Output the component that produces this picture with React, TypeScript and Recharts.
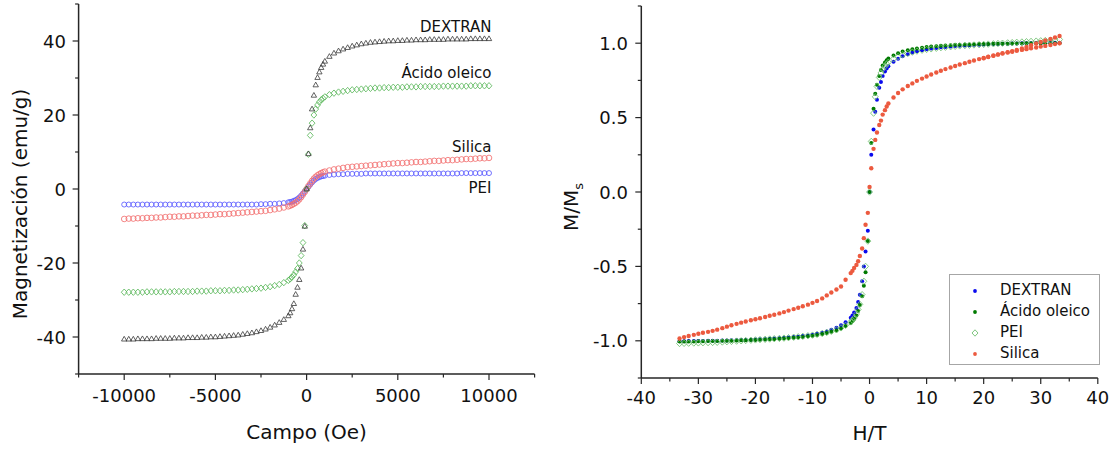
import React from 'react';
import { ScatterChart, Scatter, XAxis, YAxis, Legend } from 'recharts';

const FONT = "'DejaVu Sans', Verdana, sans-serif";

// ---------------- Left chart data (Campo in Oe, Magnetización in emu/g) ----------------
const FIELD_OE = [
  -10000, -9750, -9500, -9250, -9000, -8750, -8500, -8250, -8000, -7750,
  -7500, -7250, -7000, -6750, -6500, -6250, -6000, -5750, -5500, -5250,
  -5000, -4750, -4500, -4250, -4000, -3750, -3500, -3250, -3000, -2750,
  -2500, -2250, -2000, -1750, -1500, -1250, -1000,
  -900, -800, -700, -600, -500, -400, -300, -200, -100, 0, 100, 200, 300, 400, 500, 600, 700, 800, 900,
  1000, 1250, 1500, 1750, 2000, 2250, 2500, 2750, 3000, 3250,
  3500, 3750, 4000, 4250, 4500, 4750, 5000, 5250, 5500, 5750,
  6000, 6250, 6500, 6750, 7000, 7250, 7500, 7750, 8000, 8250,
  8500, 8750, 9000, 9250, 9500, 9750, 10000,
];

const M_DEXTRAN = [
  -40.6, -40.6, -40.6, -40.5, -40.5, -40.5, -40.5, -40.4, -40.4, -40.4,
  -40.4, -40.3, -40.3, -40.3, -40.2, -40.2, -40.2, -40.1, -40.1, -40.0,
  -40.0, -39.9, -39.8, -39.7, -39.6, -39.5, -39.3, -39.1, -38.9, -38.6,
  -38.3, -37.9, -37.4, -36.8, -36.1, -35.3, -34.3,
  -33.5, -32.4, -31.0, -28.5, -26.6, -24.5, -21.4, -16.3, -10.1, 0.0, 9.5, 16.5, 21.6, 25.3, 28.1, 30.1, 31.6, 32.8, 33.7,
  34.5, 35.8, 36.7, 37.3, 37.8, 38.2, 38.6, 38.9, 39.2, 39.4,
  39.6, 39.7, 39.8, 39.9, 40.0, 40.0, 40.1, 40.1, 40.2, 40.2,
  40.3, 40.3, 40.3, 40.4, 40.4, 40.4, 40.4, 40.5, 40.5, 40.5,
  40.5, 40.5, 40.6, 40.6, 40.6, 40.6, 40.6,
];

const M_OLEICO = [
  -27.9, -27.9, -27.9, -27.9, -27.9, -27.8, -27.8, -27.8, -27.8, -27.8,
  -27.8, -27.7, -27.7, -27.7, -27.7, -27.7, -27.6, -27.6, -27.6, -27.5,
  -27.5, -27.5, -27.4, -27.4, -27.3, -27.3, -27.2, -27.1, -27.0, -26.9,
  -26.8, -26.6, -26.4, -26.1, -25.8, -25.3, -24.7,
  -24.3, -23.8, -23.2, -22.4, -21.5, -20.0, -18.0, -14.5, -9.9, 0.0, 9.4, 14.5, 17.8, 20.0, 21.6, 22.7, 23.5, 24.1, 24.5,
  24.9, 25.5, 25.9, 26.2, 26.4, 26.6, 26.8, 26.9, 27.0, 27.1,
  27.2, 27.3, 27.3, 27.4, 27.4, 27.5, 27.5, 27.5, 27.6, 27.6,
  27.6, 27.7, 27.7, 27.7, 27.7, 27.7, 27.8, 27.8, 27.8, 27.8,
  27.8, 27.8, 27.9, 27.9, 27.9, 27.9, 27.9,
];

const M_SILICA = [
  -8.1, -8.0, -8.0, -7.9, -7.9, -7.8, -7.8, -7.7, -7.7, -7.6,
  -7.5, -7.5, -7.4, -7.4, -7.3, -7.2, -7.2, -7.1, -7.0, -7.0,
  -6.9, -6.8, -6.8, -6.7, -6.6, -6.5, -6.4, -6.3, -6.2, -6.1,
  -6.0, -5.9, -5.7, -5.5, -5.3, -5.0, -4.7,
  -4.5, -4.3, -4.0, -3.7, -3.3, -2.8, -2.2, -1.5, -0.8, 0.0, 0.8, 1.5, 2.2, 2.8, 3.3, 3.7, 4.0, 4.3, 4.5,
  4.7, 5.0, 5.3, 5.5, 5.7, 5.9, 6.0, 6.1, 6.2, 6.3,
  6.4, 6.5, 6.6, 6.7, 6.8, 6.9, 7.0, 7.0, 7.1, 7.2,
  7.3, 7.3, 7.4, 7.5, 7.6, 7.6, 7.7, 7.8, 7.8, 7.9,
  8.0, 8.1, 8.1, 8.2, 8.3, 8.3, 8.4,
];

const M_PEI = [
  -4.2, -4.2, -4.2, -4.2, -4.2, -4.2, -4.2, -4.2, -4.2, -4.2,
  -4.2, -4.2, -4.2, -4.2, -4.2, -4.2, -4.2, -4.2, -4.2, -4.2,
  -4.2, -4.2, -4.2, -4.2, -4.2, -4.2, -4.2, -4.2, -4.2, -4.2,
  -4.1, -4.1, -4.0, -4.0, -3.9, -3.8, -3.6,
  -3.5, -3.4, -3.2, -3.0, -2.7, -2.3, -1.8, -1.2, -0.6, 0.0, 0.6, 1.2, 1.8, 2.3, 2.7, 3.0, 3.2, 3.4, 3.5,
  3.6, 3.8, 3.9, 4.0, 4.0, 4.1, 4.1, 4.1, 4.1, 4.2,
  4.2, 4.2, 4.2, 4.2, 4.2, 4.2, 4.2, 4.2, 4.2, 4.2,
  4.2, 4.2, 4.2, 4.2, 4.2, 4.2, 4.2, 4.2, 4.2, 4.2,
  4.3, 4.3, 4.3, 4.3, 4.3, 4.3, 4.3,
];

const LEFT_LABELS = ['DEXTRAN', 'Ácido oleico', 'Silica', 'PEI'];
const LEFT_LABEL_X = [10000, 10000, 10000, 10000];
const LEFT_LABEL_Y = [44.0, 31.4, 11.6, 0.3];

const LEFT_X_TICKS = [-12500, -10000, -7500, -5000, -2500, 0, 2500, 5000, 7500, 10000, 12500];
const LEFT_X_MAJOR = [-10000, -5000, 0, 5000, 10000];
const LEFT_Y_TICKS = [-50, -40, -30, -20, -10, 0, 10, 20, 30, 40, 50];
const LEFT_Y_MAJOR = [-40, -20, 0, 20, 40];

// ---------------- Right chart data (H/T, M/Ms) ----------------
const HT = [
  -33.3, -32.5, -31.7, -30.8, -30.0, -29.2, -28.3, -27.5, -26.7, -25.8,
  -25.0, -24.2, -23.3, -22.5, -21.7, -20.8, -20.0, -19.2, -18.3, -17.5,
  -16.7, -15.8, -15.0, -14.2, -13.3, -12.5, -11.7, -10.8, -10.0, -9.2,
  -8.3, -7.5, -6.7, -5.8, -5.0, -4.2, -3.3,
  -3.0, -2.7, -2.3, -2.0, -1.7, -1.3, -1.0, -0.7, -0.3, 0.0, 0.3, 0.7, 1.0, 1.3, 1.7, 2.0, 2.3, 2.7, 3.0,
  3.3, 4.2, 5.0, 5.8, 6.7, 7.5, 8.3, 9.2, 10.0, 10.8,
  11.7, 12.5, 13.3, 14.2, 15.0, 15.8, 16.7, 17.5, 18.3, 19.2,
  20.0, 20.8, 21.7, 22.5, 23.3, 24.2, 25.0, 25.8, 26.7, 27.5,
  28.3, 29.2, 30.0, 30.8, 31.7, 32.5, 33.3,
];

const MR_DEXTRAN = [
  -1.003, -1.003, -1.002, -1.002, -1.001, -1.001, -1.0, -1.0, -0.999, -0.998,
  -0.998, -0.997, -0.996, -0.995, -0.994, -0.993, -0.992, -0.99, -0.989, -0.987,
  -0.985, -0.983, -0.981, -0.978, -0.975, -0.972, -0.968, -0.964, -0.959, -0.953,
  -0.946, -0.937, -0.926, -0.912, -0.895, -0.875, -0.845,
  -0.83, -0.81, -0.78, -0.74, -0.69, -0.6, -0.5, -0.4, -0.26, 0.0, 0.25, 0.42, 0.54, 0.62, 0.7, 0.74, 0.78, 0.81, 0.83,
  0.845, 0.875, 0.895, 0.912, 0.926, 0.937, 0.946, 0.953, 0.959, 0.964,
  0.968, 0.972, 0.975, 0.978, 0.981, 0.983, 0.985, 0.987, 0.989, 0.99,
  0.992, 0.993, 0.994, 0.995, 0.996, 0.997, 0.998, 0.998, 0.999, 1.0,
  1.0, 1.001, 1.001, 1.002, 1.002, 1.003, 1.003,
];

const MR_OLEICO = [
  -1.005, -1.005, -1.004, -1.004, -1.003, -1.003, -1.002, -1.002, -1.001, -1.0,
  -1.0, -0.999, -0.998, -0.997, -0.996, -0.995, -0.994, -0.993, -0.992, -0.99,
  -0.989, -0.987, -0.985, -0.983, -0.98, -0.977, -0.974, -0.97, -0.966, -0.961,
  -0.955, -0.948, -0.94, -0.93, -0.917, -0.9, -0.88,
  -0.868, -0.852, -0.83, -0.8, -0.76, -0.7, -0.63, -0.54, -0.33, 0.0, 0.33, 0.56, 0.66, 0.72, 0.78, 0.82, 0.85, 0.87, 0.885,
  0.897, 0.918, 0.933, 0.944, 0.953, 0.96, 0.965, 0.97, 0.974, 0.977,
  0.98, 0.983, 0.985, 0.987, 0.989, 0.99, 0.991, 0.992, 0.993, 0.994,
  0.995, 0.995, 0.996, 0.996, 0.997, 0.997, 0.998, 0.998, 0.998, 0.999,
  0.999, 0.999, 1.0, 1.0, 1.0, 1.0, 1.0,
];

const MR_PEI = [
  -1.018, -1.017, -1.016, -1.015, -1.014, -1.013, -1.012, -1.011, -1.01, -1.008,
  -1.006, -1.004, -1.002, -1.0, -0.998, -0.996, -0.994, -0.992, -0.99, -0.988,
  -0.986, -0.984, -0.982, -0.979, -0.976, -0.973, -0.97, -0.966, -0.962, -0.957,
  -0.951, -0.944, -0.936, -0.926, -0.913, -0.896, -0.873,
  -0.862, -0.847, -0.82, -0.79, -0.755, -0.69, -0.6, -0.5, -0.33, 0.0, 0.34, 0.53, 0.64, 0.71, 0.77, 0.8, 0.825, 0.845, 0.86,
  0.872, 0.895, 0.91, 0.922, 0.932, 0.94, 0.947, 0.953, 0.958, 0.962,
  0.966, 0.97, 0.973, 0.976, 0.979, 0.982, 0.984, 0.986, 0.988, 0.99,
  0.992, 0.994, 0.996, 0.998, 1.0, 1.002, 1.004, 1.006, 1.008, 1.01,
  1.012, 1.014, 1.016, 1.018, 1.02, 1.022, 1.025,
];

const MR_SILICA = [
  -0.985, -0.975, -0.968, -0.96, -0.953, -0.946, -0.94, -0.933, -0.925, -0.915,
  -0.905, -0.896, -0.886, -0.878, -0.87, -0.862, -0.855, -0.848, -0.84, -0.832,
  -0.825, -0.816, -0.807, -0.797, -0.787, -0.778, -0.768, -0.757, -0.745, -0.733,
  -0.715, -0.695, -0.675, -0.655, -0.635, -0.59, -0.545,
  -0.53, -0.51, -0.49, -0.465, -0.43, -0.38, -0.31, -0.22, -0.14, 0.034, 0.16, 0.29, 0.35, 0.4, 0.45, 0.48, 0.52, 0.55, 0.575,
  0.595, 0.635, 0.665, 0.69, 0.712, 0.73, 0.747, 0.762, 0.776, 0.79,
  0.803, 0.815, 0.826, 0.837, 0.847, 0.857, 0.866, 0.875, 0.884, 0.893,
  0.901, 0.909, 0.917, 0.925, 0.933, 0.94, 0.947, 0.955, 0.965, 0.975,
  0.986, 0.998, 1.008, 1.018, 1.028, 1.038, 1.048,
];

// second (lower) branch of the Silica loop at high field
const HT_SILICA_LOW = [20.0, 20.8, 21.7, 22.5, 23.3, 24.2, 25.0, 25.8, 26.7, 27.5, 28.3, 29.2, 30.0, 30.8, 31.7, 32.5, 33.3];
const MR_SILICA_LOW = [0.899, 0.907, 0.915, 0.923, 0.93, 0.937, 0.943, 0.949, 0.955, 0.96, 0.966, 0.971, 0.977, 0.982, 0.988, 0.994, 1.0];

const RIGHT_X_TICKS = [-40, -35, -30, -25, -20, -15, -10, -5, 0, 5, 10, 15, 20, 25, 30, 35, 40];
const RIGHT_X_MAJOR = [-40, -30, -20, -10, 0, 10, 20, 30, 40];
const RIGHT_Y_TICKS = [-1.25, -1, -0.75, -0.5, -0.25, 0, 0.25, 0.5, 0.75, 1, 1.25];
const RIGHT_Y_MAJOR = [-1, -0.5, 0, 0.5, 1];

const LEGEND_NAMES = ['DEXTRAN', 'Ácido oleico', 'PEI', 'Silica'];

// ---------------- helpers ----------------
const toPoints = (xs: number[], ys: number[]) => xs.map((x, i) => ({ x, y: ys[i] }));

const leftDextran = toPoints(FIELD_OE, M_DEXTRAN);
const leftOleico = toPoints(FIELD_OE, M_OLEICO);
const leftSilica = toPoints(FIELD_OE, M_SILICA);
const leftPei = toPoints(FIELD_OE, M_PEI);
const leftLabels = LEFT_LABELS.map((t, i) => ({ x: LEFT_LABEL_X[i], y: LEFT_LABEL_Y[i], text: t }));

const rightDextran = toPoints(HT, MR_DEXTRAN);
const rightOleico = toPoints(HT, MR_OLEICO);
const rightPei = toPoints(HT, MR_PEI);
const rightSilica = toPoints(HT, MR_SILICA).concat(toPoints(HT_SILICA_LOW, MR_SILICA_LOW));

const AXIS_COLOR = '#262626';
const isIn = (arr: number[], v: number) => arr.some((a) => Math.abs(a - v) < 1e-9);

const makeXTick = (major: number[], fmt: (v: number) => string, labelDy: number) => (props: any) => {
  const { x, y, payload } = props;
  const m = isIn(major, payload.value);
  return (
    <g>
      <line x1={x} x2={x} y1={y} y2={y + (m ? 6 : 3.5)} stroke={AXIS_COLOR} strokeWidth={1.2} />
      {m && (
        <text x={x} y={y + labelDy} textAnchor="middle" fontSize={18} fontFamily={FONT} fill="#111">
          {fmt(payload.value)}
        </text>
      )}
    </g>
  );
};

const makeYTick = (major: number[], fmt: (v: number) => string, gap: number) => (props: any) => {
  const { x, y, payload } = props;
  const m = isIn(major, payload.value);
  return (
    <g>
      <line x1={x} x2={x - (m ? 6 : 3.5)} y1={y} y2={y} stroke={AXIS_COLOR} strokeWidth={1.2} />
      {m && (
        <text x={x - gap} y={y + 6.5} textAnchor="end" fontSize={18} fontFamily={FONT} fill="#111">
          {fmt(payload.value)}
        </text>
      )}
    </g>
  );
};

// marker shapes
const triShape = (p: any) => (
  <polygon
    points={`${p.cx},${p.cy - 2.9} ${p.cx - 2.7},${p.cy + 1.8} ${p.cx + 2.7},${p.cy + 1.8}`}
    fill="none" stroke="#3a3a3a" strokeWidth={0.8}
  />
);
const diamondShape = (color: string, w: number, h: number) => (p: any) => (
  <polygon
    points={`${p.cx},${p.cy - h} ${p.cx + w},${p.cy} ${p.cx},${p.cy + h} ${p.cx - w},${p.cy}`}
    fill="none" stroke={color} strokeWidth={0.85}
  />
);
const ringShape = (color: string, r: number) => (p: any) => (
  <circle cx={p.cx} cy={p.cy} r={r} fill="none" stroke={color} strokeWidth={0.85} />
);
const dotShape = (color: string, r: number) => (p: any) => (
  <circle cx={p.cx} cy={p.cy} r={r} fill={color} stroke="none" />
);
const textShape = (p: any) => (
  <text x={p.cx + 2.5} y={p.cy + 5.5} textAnchor="end" fontSize={15} fontFamily={FONT} fill="#111">
    {p.payload.text}
  </text>
);

const LeftXTitle = (props: any) => {
  const vb = props.viewBox || { x: 78.6, y: 374, width: 456, height: 75 };
  return (
    <text x={vb.x + vb.width / 2} y={vb.y + 65} textAnchor="middle" fontSize={20} fontFamily={FONT} fill="#111">
      Campo (Oe)
    </text>
  );
};
const LeftYTitle = () => (
  <text x={27} y={204} transform="rotate(-90 27 204)" textAnchor="middle" fontSize={20} fontFamily={FONT} fill="#111">
    Magnetización (emu/g)
  </text>
);
const RightXTitle = (props: any) => {
  const vb = props.viewBox || { x: 81.3, y: 378, width: 456.5, height: 71 };
  return (
    <text x={vb.x + vb.width / 2} y={vb.y + 62} textAnchor="middle" fontSize={20} fontFamily={FONT} fill="#111">
      H/T
    </text>
  );
};
const RightYTitle = () => (
  <text x={18} y={207} transform="rotate(-90 18 207)" textAnchor="middle" fontSize={20} fontFamily={FONT} fill="#111">
    M/M<tspan fontSize={13} dy={5}>s</tspan>
  </text>
);

const legendMarkers = [
  <circle cx={5} cy={5} r={1.9} fill="#0a0aee" />,
  <circle cx={5} cy={5} r={1.9} fill="#007a00" />,
  <polygon points="5,1.8 8,5 5,8.2 2,5" fill="none" stroke="#66bb66" strokeWidth={0.85} />,
  <circle cx={5} cy={5} r={1.9} fill="#ec5a3f" />,
];

const RightLegend = () => (
  <div
    style={{
      position: 'relative', width: 151, height: 91, border: '1px solid #a6a6a6', boxSizing: 'border-box',
      background: '#fff', fontFamily: FONT, fontSize: 15, color: '#111',
    }}
  >
    {LEGEND_NAMES.map((name, i) => (
      <div key={name} style={{ position: 'absolute', left: 0, top: 5 + i * 21, height: 21, width: 149 }}>
        <svg width={10} height={10} style={{ position: 'absolute', left: 20, top: 5.5 }}>
          {legendMarkers[i]}
        </svg>
        <span style={{ position: 'absolute', left: 50, top: 0, lineHeight: '21px', whiteSpace: 'nowrap' }}>{name}</span>
      </div>
    ))}
  </div>
);

export default function App() {
  const axisLine = { stroke: AXIS_COLOR, strokeWidth: 1.5 };
  return (
    <div style={{ position: 'absolute', left: 0, top: 0, width: 1114, height: 449, background: '#fff', fontFamily: FONT }}>
      <div style={{ position: 'absolute', left: 0, top: 0 }}>
        <ScatterChart width={560} height={449} margin={{ top: 4, right: 25.4, bottom: 0, left: 0 }}>
          <XAxis
            type="number" dataKey="x" domain={[-12500, 12500]} ticks={LEFT_X_TICKS} interval={0}
            allowDataOverflow height={75} tickSize={0} tickMargin={0} tickLine={false} axisLine={axisLine}
            tick={makeXTick(LEFT_X_MAJOR, (v) => String(v), 27.5)}
            label={<LeftXTitle />}
          />
          <YAxis
            type="number" dataKey="y" domain={[-50, 50]} ticks={LEFT_Y_TICKS} interval={0}
            allowDataOverflow width={78.6} tickSize={0} tickMargin={0} tickLine={false} axisLine={axisLine}
            tick={makeYTick(LEFT_Y_MAJOR, (v) => String(v), 12.6)}
            label={<LeftYTitle />}
          />
          <Scatter name="PEI" data={leftPei} shape={ringShape('#5a5aff', 2.5)} isAnimationActive={false} />
          <Scatter name="Silica" data={leftSilica} shape={ringShape('#f27070', 2.8)} isAnimationActive={false} />
          <Scatter name="Ácido oleico" data={leftOleico} shape={diamondShape('#5cb85c', 2.9, 3.2)} isAnimationActive={false} />
          <Scatter name="DEXTRAN" data={leftDextran} shape={triShape} isAnimationActive={false} />
          <Scatter name="labels" data={leftLabels} shape={textShape} isAnimationActive={false} />
        </ScatterChart>
      </div>
      <div style={{ position: 'absolute', left: 560, top: 0 }}>
        <ScatterChart width={554} height={449} margin={{ top: 6, right: 16.2, bottom: 0, left: 0 }}>
          <XAxis
            type="number" dataKey="x" domain={[-40, 40]} ticks={RIGHT_X_TICKS} interval={0}
            allowDataOverflow height={71} tickSize={0} tickMargin={0} tickLine={false} axisLine={axisLine}
            tick={makeXTick(RIGHT_X_MAJOR, (v) => String(v), 25.5)}
            label={<RightXTitle />}
          />
          <YAxis
            type="number" dataKey="y" domain={[-1.25, 1.25]} ticks={RIGHT_Y_TICKS} interval={0}
            allowDataOverflow width={81.3} tickSize={0} tickMargin={0} tickLine={false} axisLine={axisLine}
            tick={makeYTick(RIGHT_Y_MAJOR, (v) => v.toFixed(1), 13.3)}
            label={<RightYTitle />}
          />
          <Legend
            layout="vertical" align="center" verticalAlign="middle"
            wrapperStyle={{ left: 389, top: 274, width: 151, height: 91 }}
            content={() => <RightLegend />}
          />
          <Scatter name="DEXTRAN" data={rightDextran} shape={dotShape('#0a0aee', 2)} isAnimationActive={false} />
          <Scatter name="Ácido oleico" data={rightOleico} shape={dotShape('#007a00', 2)} isAnimationActive={false} />
          <Scatter name="PEI" data={rightPei} shape={diamondShape('#70c070', 3, 3.2)} isAnimationActive={false} />
          <Scatter name="Silica" data={rightSilica} shape={dotShape('#ec5a3f', 2.2)} isAnimationActive={false} />
        </ScatterChart>
      </div>
    </div>
  );
}
